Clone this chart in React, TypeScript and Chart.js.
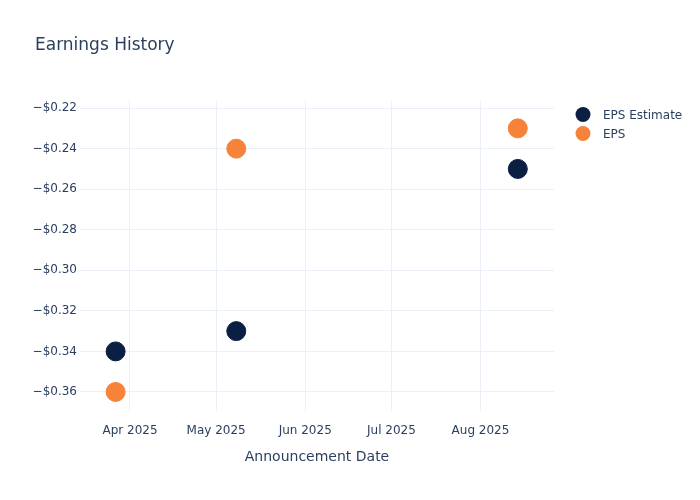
import React, { useEffect, useRef } from "react";
import { Chart, registerables } from "chart.js";

Chart.register(...registerables);

const announcementDates = ["2025-03-27", "2025-05-08", "2025-08-14"];
const epsEstimate = [-0.34, -0.33, -0.25];
const epsActual = [-0.36, -0.24, -0.23];
const monthTickDates = ["2025-04-01", "2025-05-01", "2025-06-01", "2025-07-01", "2025-08-01"];
const monthTickLabels = ["Apr 2025", "May 2025", "Jun 2025", "Jul 2025", "Aug 2025"];
const yTickValues = [-0.22, -0.24, -0.26, -0.28, -0.3, -0.32, -0.34, -0.36];
const seriesNames = ["EPS Estimate", "EPS"];
const seriesColors = ["#0B1F42", "#F7823A"];

const DAY = 86400000;
const toDay = (s: string) => {
  const [y, m, d] = s.split("-").map(Number);
  return Date.UTC(y, m - 1, d) / DAY;
};

const TEXT = "#2a3f5f";
const GRID = "#EBF0F8";
const FONT = "'DejaVu Sans', 'Open Sans', Verdana, sans-serif";

const overlayPlugin = {
  id: "overlay",
  afterDraw(chart: any) {
    const ctx = chart.ctx;
    ctx.save();
    ctx.fillStyle = TEXT;
    ctx.font = `17px ${FONT}`;
    ctx.textBaseline = "middle";
    ctx.textAlign = "left";
    ctx.fillText("Earnings History", 35, 46);
    // legend
    ctx.font = `12px ${FONT}`;
    seriesNames.forEach((name, i) => {
      const y = 114.5 + i * 19;
      ctx.beginPath();
      ctx.fillStyle = seriesColors[i];
      ctx.arc(583, y, 7.5, 0, Math.PI * 2);
      ctx.fill();
      ctx.fillStyle = TEXT;
      ctx.fillText(name, 603, y + 1);
    });
    ctx.restore();
  },
};

export default function App() {
  const ref = useRef<HTMLCanvasElement | null>(null);
  useEffect(() => {
    if (!ref.current) return;
    const xs = announcementDates.map(toDay);
    const aprDay = toDay("2025-04-01");
    const augDay = toDay("2025-08-01");
    const chart = new Chart(ref.current, {
      type: "scatter",
      data: {
        datasets: [
          {
            label: seriesNames[0],
            data: xs.map((x, i) => ({ x, y: epsEstimate[i] })),
            backgroundColor: seriesColors[0],
            borderColor: seriesColors[0],
            pointRadius: 9.5,
            pointHoverRadius: 9.5,
          },
          {
            label: seriesNames[1],
            data: xs.map((x, i) => ({ x, y: epsActual[i] })),
            backgroundColor: seriesColors[1],
            borderColor: seriesColors[1],
            pointRadius: 9.5,
            pointHoverRadius: 9.5,
          },
        ],
      },
      options: {
        animation: false,
        responsive: false,
        maintainAspectRatio: false,
        layout: { padding: { left: 0, right: 146, top: 101, bottom: 0 } },
        plugins: {
          legend: { display: false },
          title: { display: false },
          tooltip: { enabled: false },
        },
        scales: {
          x: {
            type: "linear",
            min: aprDay - 17.4,
            max: augDay + 25.6,
            border: { display: false },
            grid: { color: GRID, drawTicks: false },
            afterBuildTicks: (scale: any) => {
              scale.ticks = monthTickDates.map((d) => ({ value: toDay(d) }));
            },
            afterFit: (scale: any) => {
              scale.height = 89;
            },
            ticks: {
              color: TEXT,
              font: { family: FONT, size: 12 },
              padding: 13,
              maxRotation: 0,
              autoSkip: false,
              callback: (v: any) => {
                const i = monthTickDates.findIndex((d) => toDay(d) === v);
                return i >= 0 ? monthTickLabels[i] : "";
              },
            },
            title: {
              display: true,
              text: "Announcement Date",
              color: TEXT,
              font: { family: FONT, size: 14 },
              padding: { top: 10, bottom: 34 },
            },
          },
          y: {
            type: "linear",
            min: -0.3694,
            max: -0.2165,
            border: { display: false },
            grid: { color: GRID, drawTicks: false },
            afterBuildTicks: (scale: any) => {
              scale.ticks = yTickValues.map((v) => ({ value: v }));
            },
            afterFit: (scale: any) => {
              scale.width = 80;
            },
            ticks: {
              color: TEXT,
              font: { family: FONT, size: 12 },
              padding: 3,
              autoSkip: false,
              callback: (v: any) => "\u2212$" + Math.abs(Number(v)).toFixed(2),
            },
          },
        },
      },
      plugins: [overlayPlugin],
    } as any);
    return () => chart.destroy();
  }, []);
  return (
    <div style={{ position: "fixed", left: 0, top: 0, width: 700, height: 500, background: "#fff" }}>
      <canvas ref={ref} width={700} height={500} style={{ width: 700, height: 500 }} />
    </div>
  );
}
